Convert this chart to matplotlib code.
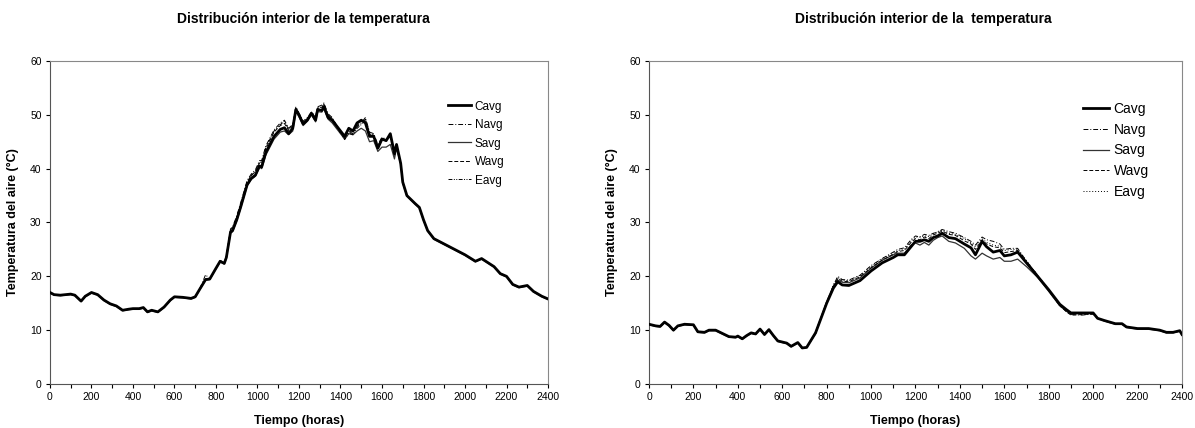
import matplotlib
matplotlib.use('Agg')
import matplotlib.pyplot as plt
from matplotlib.ticker import MultipleLocator

plt.rcParams['font.family'] = ['Liberation Sans', 'DejaVu Sans']

# ---- left chart data ----
hours_left = [0, 20, 50, 100, 120, 150, 170, 200, 230, 260,
              290, 320, 350, 380, 400, 430, 450, 470, 490, 520,
              550, 580, 600, 640, 680, 700, 720, 750, 770, 800,
              820, 840, 850, 870, 880, 900, 920, 950, 970, 990,
              1010, 1020, 1040, 1080, 1110, 1130, 1150, 1170, 1185, 1200,
              1220, 1240, 1260, 1280, 1290, 1310, 1320, 1340, 1360, 1400,
              1420, 1440, 1460, 1480, 1500, 1520, 1540, 1560, 1580, 1600,
              1620, 1640, 1660, 1670, 1690, 1700, 1720, 1760, 1780, 1800,
              1820, 1850, 1900, 1950, 2000, 2050, 2080, 2100, 2140, 2170,
              2200, 2230, 2260, 2300, 2330, 2370, 2400]

cavg_left = [17.0, 16.6, 16.5, 16.7, 16.5, 15.4, 16.3, 17.0, 16.6, 15.6,
             14.9, 14.5, 13.7, 13.9, 14.0, 14.0, 14.2, 13.4, 13.7, 13.4,
             14.3, 15.6, 16.2, 16.1, 15.9, 16.2, 17.5, 19.4, 19.5, 21.5,
             22.8, 22.4, 23.5, 28.2, 28.5, 30.5, 33.0, 37.0, 38.2, 38.8,
             40.5, 40.3, 43.0, 46.0, 47.3, 47.6, 46.5, 47.5, 51.0, 50.0,
             48.3, 49.0, 50.3, 49.0, 51.0, 50.8, 51.5, 49.5, 49.0, 47.0,
             46.0, 47.5, 47.0, 48.5, 49.0, 48.5, 46.0, 46.0, 43.8, 45.5,
             45.2, 46.5, 42.8, 44.5, 41.0, 37.5, 35.0, 33.5, 32.8, 30.5,
             28.5, 27.0, 26.0, 25.0, 24.0, 22.8, 23.3, 22.8, 21.8, 20.5,
             20.0, 18.5, 18.0, 18.3, 17.2, 16.3, 15.8]

navg_left = [17.0, 16.6, 16.5, 16.7, 16.5, 15.4, 16.3, 17.0, 16.6, 15.6,
             14.9, 14.5, 13.7, 13.9, 14.0, 14.0, 14.2, 13.4, 13.7, 13.4,
             14.3, 15.6, 16.2, 16.1, 15.9, 16.2, 17.5, 20.3, 19.5, 21.5,
             22.9, 22.6, 23.8, 28.8, 29.2, 31.2, 33.8, 37.8, 39.0, 39.8,
             41.5, 41.5, 44.2, 47.2, 48.5, 49.0, 47.5, 48.2, 51.5, 50.3,
             48.8, 49.5, 50.5, 49.8, 51.5, 51.8, 52.2, 50.2, 49.5, 46.8,
             45.5, 46.8, 46.5, 47.8, 48.5, 49.5, 46.8, 46.5, 44.5, 45.8,
             45.5, 46.0, 42.5, 44.0, 41.0, 37.5, 35.0, 33.5, 32.8, 30.5,
             28.5, 27.0, 26.0, 25.0, 24.0, 22.8, 23.3, 22.8, 21.8, 20.5,
             20.0, 18.5, 18.0, 18.3, 17.2, 16.3, 15.8]

savg_left = [16.9, 16.5, 16.4, 16.6, 16.4, 15.3, 16.2, 16.9, 16.5, 15.5,
             14.8, 14.4, 13.6, 13.8, 13.9, 13.9, 14.1, 13.3, 13.6, 13.3,
             14.2, 15.5, 16.1, 16.0, 15.8, 16.1, 17.4, 19.3, 19.4, 21.4,
             22.7, 22.3, 23.4, 28.0, 28.3, 30.3, 32.8, 36.8, 38.0, 38.6,
             40.3, 40.0, 42.5, 45.5, 46.8, 47.0, 46.3, 47.0, 50.6, 49.6,
             48.0, 48.8, 50.0, 48.7, 50.6, 50.5, 51.2, 49.2, 48.5, 46.5,
             45.5, 46.5, 46.3, 47.0, 47.5, 47.0, 45.0, 45.2, 43.2, 44.0,
             44.0, 44.5, 41.8, 43.8, 40.8, 37.3, 34.9, 33.4, 32.7, 30.4,
             28.4, 26.9, 25.9, 24.9, 23.9, 22.7, 23.2, 22.7, 21.7, 20.4,
             19.9, 18.4, 17.9, 18.2, 17.1, 16.2, 15.7]

wavg_left = [17.0, 16.6, 16.5, 16.7, 16.5, 15.4, 16.3, 17.0, 16.6, 15.6,
             14.9, 14.5, 13.7, 13.9, 14.0, 14.0, 14.2, 13.4, 13.7, 13.4,
             14.3, 15.6, 16.2, 16.1, 15.9, 16.2, 17.5, 19.6, 19.5, 21.5,
             22.9, 22.5, 23.7, 28.6, 29.0, 31.0, 33.5, 37.5, 38.8, 39.4,
             41.1, 41.0, 43.7, 46.8, 48.0, 48.4, 47.1, 48.0, 51.3, 50.2,
             48.6, 49.3, 50.4, 49.5, 51.3, 51.4, 51.9, 49.9, 49.3, 46.7,
             45.7, 47.0, 46.7, 48.0, 48.8, 49.0, 46.4, 46.2, 44.0, 45.6,
             45.3, 46.2, 42.6, 44.2, 41.0, 37.5, 35.0, 33.5, 32.8, 30.5,
             28.5, 27.0, 26.0, 25.0, 24.0, 22.8, 23.3, 22.8, 21.8, 20.5,
             20.0, 18.5, 18.0, 18.3, 17.2, 16.3, 15.8]

eavg_left = [17.0, 16.6, 16.5, 16.7, 16.5, 15.4, 16.3, 17.0, 16.6, 15.6,
             14.9, 14.5, 13.7, 13.9, 14.0, 14.0, 14.2, 13.4, 13.7, 13.4,
             14.3, 15.6, 16.2, 16.1, 15.9, 16.2, 17.5, 19.5, 19.5, 21.5,
             22.8, 22.5, 23.6, 28.5, 28.9, 30.9, 33.4, 37.4, 38.7, 39.5,
             41.2, 41.2, 43.9, 47.0, 48.2, 48.8, 47.3, 48.0, 51.2, 50.1,
             48.5, 49.2, 50.4, 49.4, 51.2, 51.5, 52.0, 50.0, 49.4, 46.6,
             45.4, 46.6, 46.3, 47.5, 48.2, 49.2, 46.5, 46.2, 44.2, 45.6,
             45.3, 45.8, 42.4, 44.0, 41.0, 37.5, 35.0, 33.5, 32.8, 30.5,
             28.5, 27.0, 26.0, 25.0, 24.0, 22.8, 23.3, 22.8, 21.8, 20.5,
             20.0, 18.5, 18.0, 18.3, 17.2, 16.3, 15.8]

# ---- right chart data ----
hours_right = [0, 30, 50, 70, 90, 110, 130, 160, 200, 220,
               250, 270, 300, 330, 360, 390, 400, 420, 440, 460,
               480, 500, 520, 540, 560, 580, 600, 620, 640, 670,
               690, 710, 750, 800, 830, 850, 870, 900, 950, 1000,
               1050, 1100, 1120, 1150, 1180, 1200, 1220, 1240, 1260, 1280,
               1300, 1320, 1350, 1380, 1420, 1450, 1470, 1500, 1520, 1550,
               1580, 1600, 1630, 1660, 1700, 1750, 1800, 1850, 1880, 1900,
               1950, 2000, 2020, 2050, 2100, 2130, 2150, 2200, 2250, 2300,
               2330, 2360, 2390, 2400]

cavg_right = [11.1, 10.8, 10.7, 11.5, 10.9, 10.0, 10.8, 11.1, 11.0, 9.7,
              9.6, 10.0, 10.0, 9.4, 8.8, 8.7, 8.9, 8.4, 9.0, 9.5,
              9.3, 10.2, 9.2, 10.1, 9.0, 8.0, 7.8, 7.6, 7.0, 7.7,
              6.7, 6.8, 9.5, 15.0, 17.8, 19.0, 18.4, 18.3, 19.2, 21.0,
              22.5, 23.5, 24.0, 24.0, 25.5, 26.5, 26.5, 26.8, 26.5, 27.2,
              27.5, 28.0, 27.2, 27.0, 26.0, 25.3, 24.0, 26.5, 25.5, 24.5,
              24.8, 23.8, 24.0, 24.5, 22.5, 20.0, 17.5, 14.8, 13.8, 13.2,
              13.2, 13.2, 12.2, 11.8, 11.2, 11.2, 10.6, 10.3, 10.3, 10.0,
              9.6, 9.6, 9.9, 9.2]

navg_right = [11.1, 10.8, 10.7, 11.5, 10.9, 10.0, 10.8, 11.1, 11.0, 9.7,
              9.6, 10.0, 10.0, 9.4, 8.8, 8.7, 8.9, 8.4, 9.0, 9.5,
              9.3, 10.2, 9.2, 10.1, 9.0, 8.0, 7.8, 7.6, 7.0, 7.7,
              6.7, 6.8, 9.3, 15.2, 18.3, 20.0, 19.4, 19.3, 20.2, 22.0,
              23.3, 24.5, 25.0, 25.3, 26.8, 27.5, 27.3, 27.8, 27.6, 28.0,
              28.2, 28.7, 28.3, 28.0, 27.2, 26.5, 25.8, 27.3, 26.8, 26.5,
              26.0, 25.0, 25.2, 25.2, 22.8, 20.2, 17.3, 14.5, 13.5, 12.9,
              12.8, 13.0, 12.2, 11.8, 11.2, 11.2, 10.6, 10.3, 10.3, 10.0,
              9.6, 9.6, 9.9, 9.2]

savg_right = [11.0, 10.7, 10.6, 11.4, 10.8, 9.9, 10.7, 11.0, 10.9, 9.6,
              9.5, 9.9, 9.9, 9.3, 8.7, 8.6, 8.8, 8.3, 8.9, 9.4,
              9.2, 10.1, 9.1, 10.0, 8.9, 7.9, 7.7, 7.5, 6.9, 7.6,
              6.6, 6.8, 9.6, 15.2, 18.2, 19.3, 18.9, 18.8, 19.7, 21.5,
              23.0, 24.0, 24.3, 24.3, 25.8, 26.2, 25.8, 26.3, 25.8, 26.7,
              27.2, 27.5, 26.5, 26.2, 25.2, 23.8, 23.2, 24.3, 23.8, 23.2,
              23.5, 22.8, 22.8, 23.2, 21.8, 19.8, 17.2, 14.5, 13.5, 13.0,
              13.2, 13.2, 12.2, 11.7, 11.1, 11.1, 10.5, 10.2, 10.2, 9.9,
              9.5, 9.5, 9.8, 9.1]

wavg_right = [11.1, 10.8, 10.7, 11.5, 10.9, 10.0, 10.8, 11.1, 11.0, 9.7,
              9.6, 10.0, 10.0, 9.4, 8.8, 8.7, 8.9, 8.4, 9.0, 9.5,
              9.3, 10.2, 9.2, 10.1, 9.0, 8.0, 7.8, 7.6, 7.0, 7.7,
              6.7, 6.8, 9.4, 15.1, 18.0, 19.6, 19.1, 19.0, 19.9, 21.6,
              23.0, 24.1, 24.6, 24.8, 26.3, 27.0, 26.8, 27.3, 27.0, 27.7,
              28.0, 28.4, 27.8, 27.6, 26.6, 26.0, 25.0, 26.8, 26.0, 25.5,
              25.3, 24.4, 24.6, 24.8, 22.7, 20.1, 17.4, 14.6, 13.4, 12.8,
              12.9, 13.0, 12.2, 11.8, 11.2, 11.2, 10.6, 10.3, 10.3, 10.0,
              9.6, 9.6, 9.9, 9.2]

eavg_right = [11.1, 10.8, 10.7, 11.5, 10.9, 10.0, 10.8, 11.1, 11.0, 9.7,
              9.6, 10.0, 10.0, 9.4, 8.8, 8.7, 8.9, 8.4, 9.0, 9.5,
              9.3, 10.2, 9.2, 10.1, 9.0, 8.0, 7.8, 7.6, 7.0, 7.7,
              6.7, 6.8, 9.5, 15.3, 18.4, 19.8, 19.3, 19.2, 20.1, 21.8,
              23.3, 24.3, 24.8, 25.0, 26.6, 27.3, 27.3, 27.5, 27.4, 27.9,
              28.3, 28.6, 28.0, 27.8, 27.0, 26.2, 25.5, 27.0, 26.3, 25.8,
              25.6, 24.8, 25.0, 25.0, 22.9, 20.2, 17.5, 14.7, 13.6, 13.0,
              13.2, 13.2, 12.2, 11.8, 11.2, 11.2, 10.6, 10.3, 10.3, 10.0,
              9.6, 9.6, 9.9, 9.2]

fig = plt.figure(figsize=(11.95, 4.28), dpi=100)
ax1 = fig.add_axes([0.0418, 0.1028, 0.4168, 0.7547])
ax2 = fig.add_axes([0.5431, 0.1028, 0.4460, 0.7547])


def draw_panel(ax, hours, series, eavg_dash, legend_size, legend_anchor,
               label_spacing, handle_len):
    cavg, navg, savg, wavg, eavg = series
    ax.plot(hours, cavg, color='black', linewidth=2.0, label='Cavg', zorder=5)
    ax.plot(hours, navg, color='black', linewidth=0.7, dashes=(5, 2, 1, 2), label='Navg')
    ax.plot(hours, savg, color='#333333', linewidth=0.9, label='Savg')
    ax.plot(hours, wavg, color='black', linewidth=0.7, dashes=(4, 2), label='Wavg')
    ax.plot(hours, eavg, color='black', linewidth=0.7, dashes=eavg_dash, label='Eavg')

    ax.set_xlim(0, 2400)
    ax.set_ylim(0, 60)
    ax.xaxis.set_major_locator(MultipleLocator(200))
    ax.xaxis.set_minor_locator(MultipleLocator(100))
    ax.yaxis.set_major_locator(MultipleLocator(10))
    ax.tick_params(axis='both', which='both', direction='out', labelsize=7.5,
                   length=3, width=0.8, pad=3)
    for side in ['top', 'right']:
        ax.spines[side].set_color('#888888')
    ax.spines['left'].set_color('#555555')
    ax.spines['bottom'].set_color('#555555')
    ax.set_xlabel('Tiempo (horas)', fontsize=9, fontweight='bold', labelpad=9)
    ax.set_ylabel('Temperatura del aire (°C)', fontsize=9, fontweight='bold', labelpad=8)
    ax.legend(loc='upper left', bbox_to_anchor=legend_anchor, frameon=False,
              fontsize=legend_size, handlelength=handle_len, handletextpad=0.3,
              labelspacing=label_spacing, borderaxespad=0)


draw_panel(ax1, hours_left, [cavg_left, navg_left, savg_left, wavg_left, eavg_left],
           (4, 1.5, 1, 1.5, 1, 1.5), 8.5, (0.789, 0.892), 0.55, 2.0)
draw_panel(ax2, hours_right, [cavg_right, navg_right, savg_right, wavg_right, eavg_right],
           (1, 2), 10, (0.804, 0.891), 0.49, 1.9)

fig.text(0.254, 0.956, 'Distribución interior de la temperatura', ha='center', va='center',
         fontsize=10, fontweight='bold')
fig.text(0.773, 0.956, 'Distribución interior de la  temperatura', ha='center', va='center',
         fontsize=10, fontweight='bold')

fig.savefig('out.png', dpi=100)
